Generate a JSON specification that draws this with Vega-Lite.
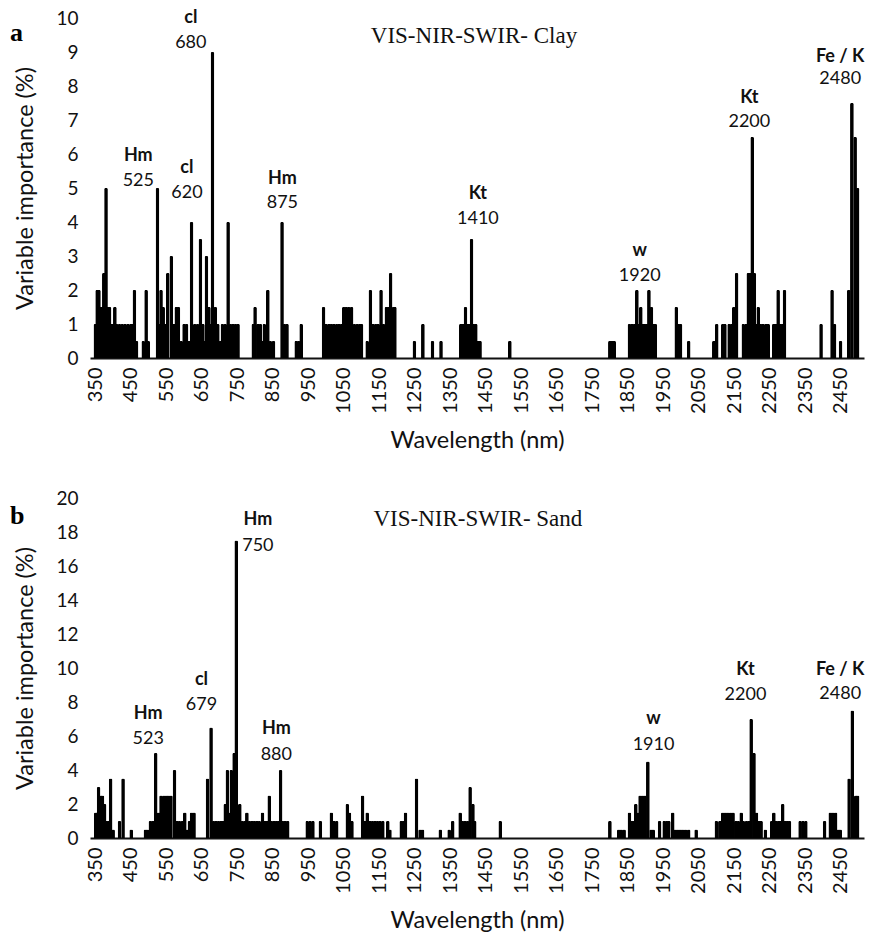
{
"$schema": "https://vega.github.io/schema/vega-lite/v6.json",
"background": "white",
"padding": {"left": 9, "top": 9, "right": 0, "bottom": 0},
"spacing": 37,
"config": {
  "font": "Lato",
  "view": {"stroke": null},
  "axis": {"labelFont": "Lato", "titleFont": "Lato", "labelColor": "#111", "titleColor": "#111", "grid": false, "ticks": false, "tickSize": 0, "labelFontSize": 19, "titleFontSize": 23.5, "titleFontWeight": "normal", "labelOverlap": false, "labelFlush": false, "format": "d"},
  "axisY": {"domain": false, "labelPadding": 12, "titlePadding": 18},
  "axisX": {"domainColor": "#111", "domainWidth": 2, "labelAngle": -90, "labelPadding": 9, "titlePadding": 15, "labelFontSize": 20}
},
"datasets": {
  "clay": [
{"wl":350,"v":1},{"wl":355,"v":2},{"wl":360,"v":2},{"wl":365,"v":1.5},{"wl":370,"v":1.5},{"wl":374,"v":2.5},{"wl":380,"v":5},{"wl":385,"v":1.5},{"wl":390,"v":1.5},{"wl":395,"v":1},{"wl":400,"v":1},{"wl":405,"v":1.5},{"wl":410,"v":1},{"wl":418,"v":1},{"wl":426,"v":1},{"wl":434,"v":1},{"wl":442,"v":1},{"wl":450,"v":1},{"wl":455,"v":1},{"wl":460,"v":2},{"wl":466,"v":0.5},{"wl":485,"v":0.5},{"wl":493,"v":2},{"wl":499,"v":0.5},{"wl":525,"v":5},{"wl":531,"v":1},{"wl":535,"v":2},{"wl":541,"v":1.5},{"wl":547,"v":1},{"wl":554,"v":2.5},{"wl":564,"v":3},{"wl":572,"v":1},{"wl":578,"v":1.5},{"wl":584,"v":1.5},{"wl":592,"v":0.5},{"wl":600,"v":1},{"wl":607,"v":1},{"wl":614,"v":0.5},{"wl":621,"v":4},{"wl":630,"v":1},{"wl":638,"v":1},{"wl":646,"v":3.5},{"wl":653,"v":1},{"wl":658,"v":0.5},{"wl":663,"v":3},{"wl":670,"v":1.5},{"wl":675,"v":1},{"wl":680,"v":9},{"wl":688,"v":1.5},{"wl":695,"v":1},{"wl":702,"v":0.5},{"wl":708,"v":1},{"wl":716,"v":1},{"wl":724,"v":4},{"wl":731,"v":1},{"wl":738,"v":1},{"wl":745,"v":1},{"wl":752,"v":1},{"wl":795,"v":1},{"wl":800,"v":1.5},{"wl":808,"v":1},{"wl":815,"v":1},{"wl":820,"v":0.5},{"wl":826,"v":1},{"wl":836,"v":2},{"wl":843,"v":0.5},{"wl":852,"v":0.5},{"wl":876,"v":4},{"wl":883,"v":1},{"wl":890,"v":1},{"wl":916,"v":0.5},{"wl":923,"v":0.5},{"wl":930,"v":1},{"wl":993,"v":1.5},{"wl":1000,"v":1},{"wl":1008,"v":1},{"wl":1015,"v":1},{"wl":1022,"v":1},{"wl":1030,"v":1},{"wl":1037,"v":1},{"wl":1044,"v":1},{"wl":1050,"v":1.5},{"wl":1057,"v":1.5},{"wl":1064,"v":1.5},{"wl":1072,"v":1.5},{"wl":1080,"v":1},{"wl":1088,"v":1},{"wl":1095,"v":1},{"wl":1100,"v":1},{"wl":1116,"v":0.5},{"wl":1125,"v":2},{"wl":1132,"v":1},{"wl":1140,"v":1},{"wl":1147,"v":1},{"wl":1155,"v":2},{"wl":1162,"v":1},{"wl":1170,"v":1.5},{"wl":1176,"v":1.5},{"wl":1182,"v":2.5},{"wl":1190,"v":1.5},{"wl":1194,"v":1.5},{"wl":1249,"v":0.5},{"wl":1273,"v":1},{"wl":1300,"v":0.5},{"wl":1324,"v":0.5},{"wl":1380,"v":1},{"wl":1386,"v":1},{"wl":1393,"v":1.5},{"wl":1400,"v":1},{"wl":1405,"v":1},{"wl":1410,"v":3.5},{"wl":1416,"v":1},{"wl":1422,"v":1},{"wl":1428,"v":0.5},{"wl":1434,"v":0.5},{"wl":1518,"v":0.5},{"wl":1800,"v":0.5},{"wl":1806,"v":0.5},{"wl":1812,"v":0.5},{"wl":1855,"v":1},{"wl":1862,"v":1},{"wl":1869,"v":1},{"wl":1876,"v":2},{"wl":1882,"v":1},{"wl":1887,"v":1.5},{"wl":1893,"v":1},{"wl":1898,"v":1},{"wl":1904,"v":1},{"wl":1910,"v":2},{"wl":1917,"v":1.5},{"wl":1923,"v":1},{"wl":1928,"v":1},{"wl":1987,"v":1.5},{"wl":1993,"v":1},{"wl":1999,"v":1},{"wl":2022,"v":0.5},{"wl":2093,"v":0.5},{"wl":2101,"v":1},{"wl":2118,"v":1},{"wl":2124,"v":1},{"wl":2136,"v":1},{"wl":2143,"v":1},{"wl":2149,"v":1.5},{"wl":2157,"v":2.5},{"wl":2176,"v":1},{"wl":2184,"v":1},{"wl":2190,"v":2.5},{"wl":2195,"v":2.5},{"wl":2201,"v":6.5},{"wl":2207,"v":2.5},{"wl":2212,"v":1},{"wl":2218,"v":1.5},{"wl":2225,"v":1},{"wl":2232,"v":1},{"wl":2240,"v":1},{"wl":2246,"v":1},{"wl":2262,"v":1},{"wl":2268,"v":1},{"wl":2274,"v":2},{"wl":2280,"v":1},{"wl":2286,"v":1},{"wl":2292,"v":2},{"wl":2395,"v":1},{"wl":2426,"v":2},{"wl":2433,"v":1},{"wl":2450,"v":0.5},{"wl":2473,"v":2},{"wl":2482,"v":7.5},{"wl":2491,"v":6.5},{"wl":2498,"v":5}
  ],
  "sand": [
{"wl":351,"v":1.5},{"wl":355,"v":1.5},{"wl":359,"v":3},{"wl":365,"v":2.5},{"wl":370,"v":2.5},{"wl":376,"v":2},{"wl":382,"v":1},{"wl":388,"v":1},{"wl":393,"v":3.5},{"wl":400,"v":0.5},{"wl":418,"v":1},{"wl":428,"v":3.5},{"wl":451,"v":0.5},{"wl":491,"v":0.5},{"wl":497,"v":0.5},{"wl":505,"v":1},{"wl":512,"v":1},{"wl":520,"v":5},{"wl":528,"v":1.5},{"wl":535,"v":2.5},{"wl":543,"v":2.5},{"wl":550,"v":2.5},{"wl":556,"v":2.5},{"wl":563,"v":2.5},{"wl":573,"v":4},{"wl":580,"v":1},{"wl":587,"v":1},{"wl":595,"v":1},{"wl":602,"v":1.5},{"wl":609,"v":0.5},{"wl":615,"v":1},{"wl":621,"v":1.5},{"wl":628,"v":1.5},{"wl":666,"v":3.5},{"wl":676,"v":6.5},{"wl":683,"v":1},{"wl":690,"v":1},{"wl":697,"v":1},{"wl":704,"v":1},{"wl":710,"v":1},{"wl":716,"v":2},{"wl":722,"v":4},{"wl":728,"v":1.5},{"wl":733,"v":4},{"wl":741,"v":5},{"wl":747,"v":17.5},{"wl":757,"v":2},{"wl":764,"v":1},{"wl":771,"v":1},{"wl":777,"v":1.5},{"wl":784,"v":1},{"wl":791,"v":1},{"wl":798,"v":1},{"wl":805,"v":1},{"wl":812,"v":1},{"wl":821,"v":1.5},{"wl":828,"v":1},{"wl":834,"v":1},{"wl":840,"v":2.5},{"wl":846,"v":1},{"wl":853,"v":1},{"wl":860,"v":1},{"wl":866,"v":1},{"wl":872,"v":4},{"wl":878,"v":1},{"wl":885,"v":1},{"wl":892,"v":1},{"wl":947,"v":1},{"wl":955,"v":1},{"wl":963,"v":1},{"wl":984,"v":1},{"wl":1015,"v":1.5},{"wl":1022,"v":1},{"wl":1030,"v":1},{"wl":1060,"v":2},{"wl":1066,"v":1.5},{"wl":1073,"v":1},{"wl":1103,"v":2.5},{"wl":1110,"v":1},{"wl":1116,"v":1.5},{"wl":1124,"v":1},{"wl":1131,"v":1},{"wl":1138,"v":1},{"wl":1145,"v":1},{"wl":1152,"v":1},{"wl":1160,"v":1},{"wl":1174,"v":1},{"wl":1180,"v":0.5},{"wl":1212,"v":1},{"wl":1218,"v":1},{"wl":1224,"v":1.5},{"wl":1255,"v":3.5},{"wl":1265,"v":0.5},{"wl":1272,"v":0.5},{"wl":1322,"v":0.5},{"wl":1347,"v":0.5},{"wl":1357,"v":1},{"wl":1378,"v":1.5},{"wl":1385,"v":1},{"wl":1392,"v":1},{"wl":1399,"v":1},{"wl":1406,"v":3},{"wl":1414,"v":2},{"wl":1419,"v":1},{"wl":1491,"v":1},{"wl":1800,"v":1},{"wl":1825,"v":0.5},{"wl":1832,"v":0.5},{"wl":1840,"v":0.5},{"wl":1855,"v":1.5},{"wl":1862,"v":1},{"wl":1868,"v":1},{"wl":1873,"v":2},{"wl":1879,"v":1.5},{"wl":1885,"v":2.5},{"wl":1892,"v":2.5},{"wl":1899,"v":2.5},{"wl":1907,"v":4.5},{"wl":1916,"v":0.5},{"wl":1922,"v":0.5},{"wl":1940,"v":1},{"wl":1953,"v":1},{"wl":1960,"v":1},{"wl":1966,"v":1},{"wl":1977,"v":1.5},{"wl":1984,"v":0.5},{"wl":1991,"v":0.5},{"wl":1998,"v":0.5},{"wl":2005,"v":0.5},{"wl":2013,"v":0.5},{"wl":2022,"v":0.5},{"wl":2043,"v":0.5},{"wl":2100,"v":1},{"wl":2110,"v":1},{"wl":2118,"v":1.5},{"wl":2125,"v":1.5},{"wl":2132,"v":1.5},{"wl":2140,"v":1.5},{"wl":2147,"v":1.5},{"wl":2155,"v":1},{"wl":2162,"v":1},{"wl":2170,"v":1.5},{"wl":2176,"v":1},{"wl":2185,"v":1},{"wl":2192,"v":1},{"wl":2198,"v":7},{"wl":2206,"v":5},{"wl":2213,"v":1.5},{"wl":2220,"v":1},{"wl":2226,"v":1},{"wl":2238,"v":0.5},{"wl":2256,"v":1},{"wl":2262,"v":1.5},{"wl":2268,"v":1},{"wl":2275,"v":1},{"wl":2280,"v":1},{"wl":2287,"v":2},{"wl":2294,"v":1},{"wl":2300,"v":1},{"wl":2306,"v":1},{"wl":2336,"v":1},{"wl":2344,"v":1},{"wl":2352,"v":1},{"wl":2405,"v":1},{"wl":2421,"v":1.5},{"wl":2428,"v":1.5},{"wl":2436,"v":1.5},{"wl":2443,"v":0.5},{"wl":2449,"v":0.5},{"wl":2474,"v":3.5},{"wl":2483,"v":7.5},{"wl":2493,"v":2.5},{"wl":2498,"v":2.5}
  ],
  "clayLabels": [
    {"wl":471,"v":5.94,"label":"Hm","kind":"name"},{"wl":471,"v":5.2,"label":"525","kind":"num"},
    {"wl":608,"v":5.59,"label":"cl","kind":"name"},{"wl":608,"v":4.85,"label":"620","kind":"num"},
    {"wl":619,"v":10.0,"label":"cl","kind":"name"},{"wl":619,"v":9.26,"label":"680","kind":"num"},
    {"wl":877,"v":5.26,"label":"Hm","kind":"name"},{"wl":877,"v":4.56,"label":"875","kind":"num"},
    {"wl":1428,"v":4.82,"label":"Kt","kind":"name"},{"wl":1428,"v":4.08,"label":"1410","kind":"num"},
    {"wl":1884,"v":3.15,"label":"w","kind":"name"},{"wl":1884,"v":2.41,"label":"1920","kind":"num"},
    {"wl":2193,"v":7.65,"label":"Kt","kind":"name"},{"wl":2193,"v":6.94,"label":"2200","kind":"num"},
    {"wl":2449,"v":8.85,"label":"Fe / K","kind":"name"},{"wl":2449,"v":8.2,"label":"2480","kind":"num"}
  ],
  "sandLabels": [
    {"wl":499,"v":7.3,"label":"Hm","kind":"name"},{"wl":499,"v":5.8,"label":"523","kind":"num"},
    {"wl":649,"v":9.3,"label":"cl","kind":"name"},{"wl":649,"v":7.8,"label":"679","kind":"num"},
    {"wl":808,"v":18.7,"label":"Hm","kind":"name"},{"wl":808,"v":17.2,"label":"750","kind":"num"},
    {"wl":860,"v":6.4,"label":"Hm","kind":"name"},{"wl":860,"v":4.9,"label":"880","kind":"num"},
    {"wl":1923,"v":7.0,"label":"w","kind":"name"},{"wl":1923,"v":5.5,"label":"1910","kind":"num"},
    {"wl":2182,"v":9.9,"label":"Kt","kind":"name"},{"wl":2182,"v":8.4,"label":"2200","kind":"num"},
    {"wl":2449,"v":9.9,"label":"Fe / K","kind":"name"},{"wl":2449,"v":8.5,"label":"2480","kind":"num"}
  ],
  "clayTitle": [{"title":"VIS-NIR-SWIR- Clay"}],
  "sandTitle": [{"title":"VIS-NIR-SWIR- Sand"}]
},
"vconcat": [
  {
    "title": {"text": "a", "font": "Liberation Serif", "fontSize": 26, "fontWeight": "bold", "color": "#000", "anchor": "start", "frame": "bounds", "offset": -37, "dx": -4},
    "vconcat": [
      {
        "width": 774, "height": 340,
        "layer": [
          {
            "data": {"name": "clay"},
            "mark": {"type": "bar", "width": 3.7, "color": "#000", "cornerRadiusTopLeft": 1.5, "cornerRadiusTopRight": 1.5},
            "encoding": {
              "x": {"field": "wl", "type": "quantitative", "scale": {"domain": [349, 2502], "nice": false, "zero": false}, "axis": {"values": [350,450,550,650,750,850,950,1050,1150,1250,1350,1450,1550,1650,1750,1850,1950,2050,2150,2250,2350,2450], "tickCount": 100, "labelOverlap": false, "format": "d", "title": "Wavelength (nm)"}},
              "y": {"field": "v", "type": "quantitative", "scale": {"domain": [0, 10], "nice": false}, "axis": {"values": [0,1,2,3,4,5,6,7,8,9,10], "tickCount": 100, "labelOverlap": false, "format": "d", "title": "Variable importance (%)"}}
            }
          },
          {
            "data": {"name": "clayLabels"},
            "transform": [{"filter": "datum.kind === 'name'"}],
            "mark": {"type": "text", "font": "Lato", "fontSize": 18, "fontWeight": "bold", "color": "#111", "baseline": "middle"},
            "encoding": {"x": {"field": "wl", "type": "quantitative"}, "y": {"field": "v", "type": "quantitative"}, "text": {"field": "label"}}
          },
          {
            "data": {"name": "clayLabels"},
            "transform": [{"filter": "datum.kind === 'num'"}],
            "mark": {"type": "text", "font": "Lato", "fontSize": 18, "color": "#111", "baseline": "middle"},
            "encoding": {"x": {"field": "wl", "type": "quantitative"}, "y": {"field": "v", "type": "quantitative"}, "text": {"field": "label"}}
          },
          {
            "data": {"name": "clayTitle"},
            "mark": {"type": "text", "font": "Liberation Serif", "fontSize": 23, "color": "#111", "baseline": "middle"},
            "encoding": {"x": {"datum": 1417}, "y": {"datum": 9.47}, "text": {"field": "title"}}
          }
        ]
      }
    ]
  },
  {
    "title": {"text": "b", "font": "Liberation Serif", "fontSize": 26, "fontWeight": "bold", "color": "#000", "anchor": "start", "frame": "bounds", "offset": -40, "dx": -4},
    "vconcat": [
      {
        "width": 774, "height": 340,
        "layer": [
          {
            "data": {"name": "sand"},
            "mark": {"type": "bar", "width": 3.7, "color": "#000", "cornerRadiusTopLeft": 1.5, "cornerRadiusTopRight": 1.5},
            "encoding": {
              "x": {"field": "wl", "type": "quantitative", "scale": {"domain": [349, 2502], "nice": false, "zero": false}, "axis": {"values": [350,450,550,650,750,850,950,1050,1150,1250,1350,1450,1550,1650,1750,1850,1950,2050,2150,2250,2350,2450], "tickCount": 100, "labelOverlap": false, "format": "d", "title": "Wavelength (nm)"}},
              "y": {"field": "v", "type": "quantitative", "scale": {"domain": [0, 20], "nice": false}, "axis": {"values": [0,2,4,6,8,10,12,14,16,18,20], "tickCount": 100, "labelOverlap": false, "format": "d", "title": "Variable importance (%)"}}
            }
          },
          {
            "data": {"name": "sandLabels"},
            "transform": [{"filter": "datum.kind === 'name'"}],
            "mark": {"type": "text", "font": "Lato", "fontSize": 18, "fontWeight": "bold", "color": "#111", "baseline": "middle"},
            "encoding": {"x": {"field": "wl", "type": "quantitative"}, "y": {"field": "v", "type": "quantitative"}, "text": {"field": "label"}}
          },
          {
            "data": {"name": "sandLabels"},
            "transform": [{"filter": "datum.kind === 'num'"}],
            "mark": {"type": "text", "font": "Lato", "fontSize": 18, "color": "#111", "baseline": "middle"},
            "encoding": {"x": {"field": "wl", "type": "quantitative"}, "y": {"field": "v", "type": "quantitative"}, "text": {"field": "label"}}
          },
          {
            "data": {"name": "sandTitle"},
            "mark": {"type": "text", "font": "Liberation Serif", "fontSize": 23, "color": "#111", "baseline": "middle"},
            "encoding": {"x": {"datum": 1428}, "y": {"datum": 18.76}, "text": {"field": "title"}}
          }
        ]
      }
    ]
  }
]
}
